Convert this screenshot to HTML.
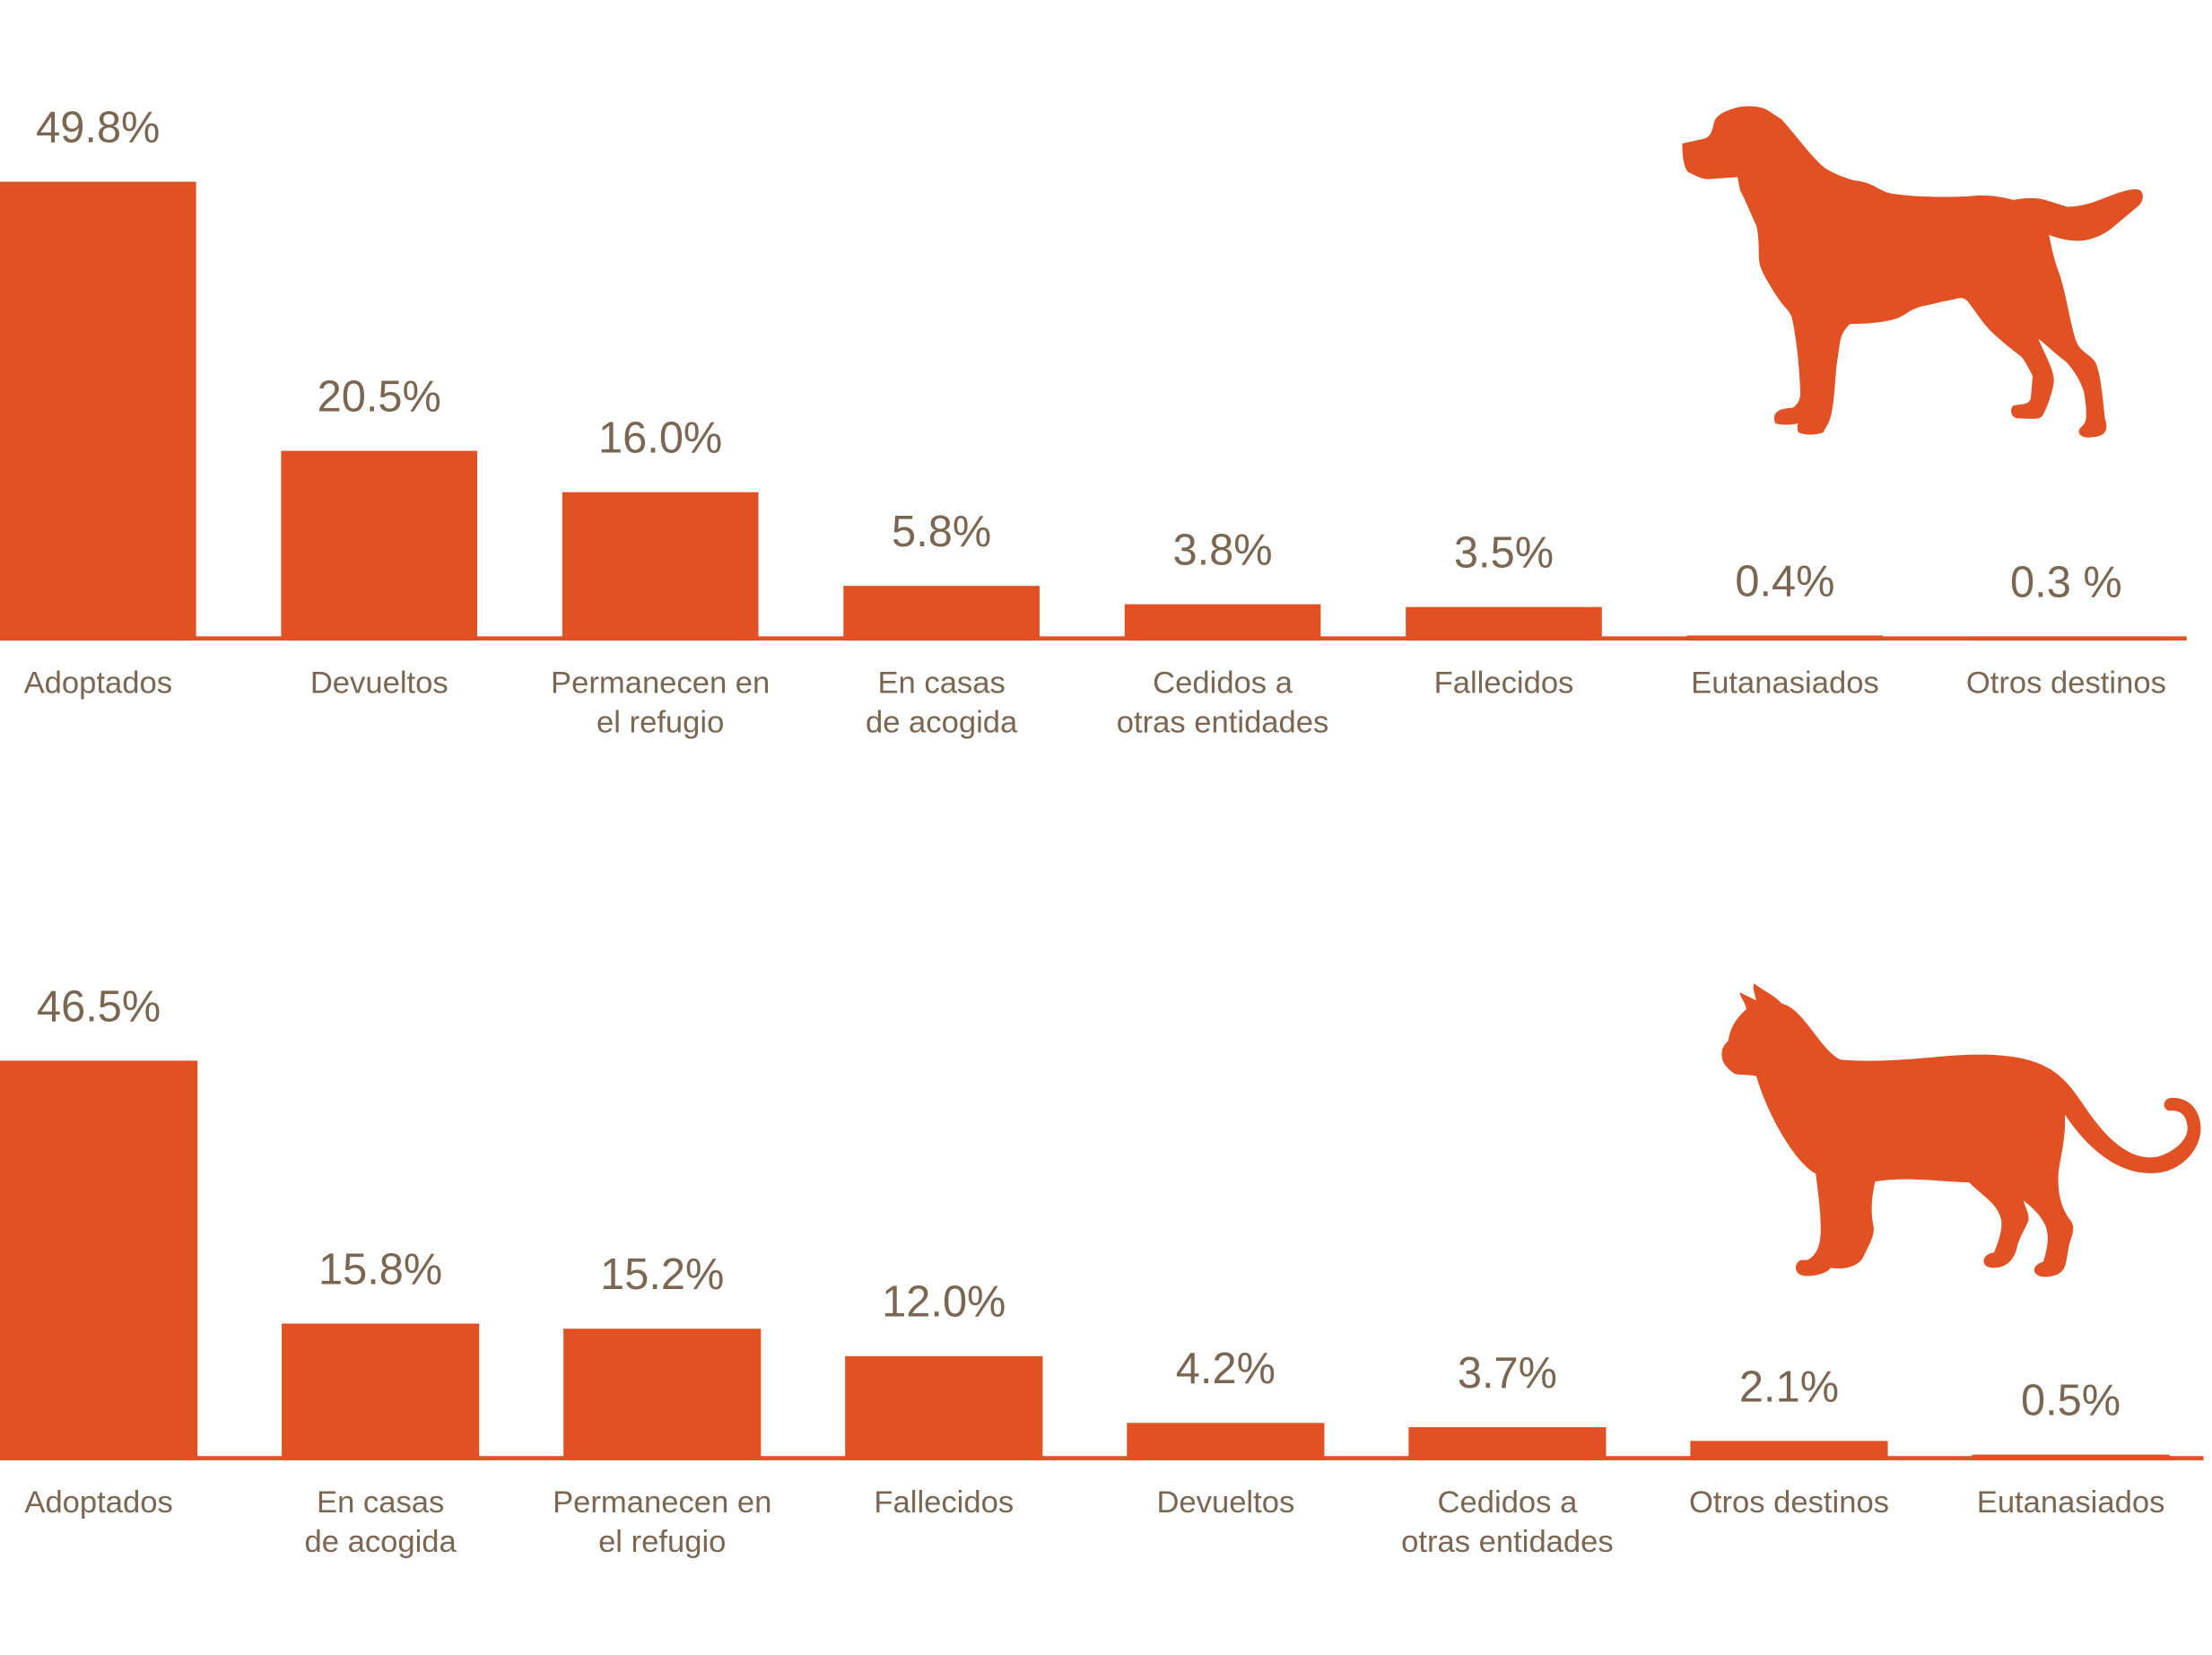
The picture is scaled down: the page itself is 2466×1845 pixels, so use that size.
<!DOCTYPE html>
<html><head><meta charset="utf-8"><style>
html,body{margin:0;padding:0;background:#fff;}
svg{display:block;}
text{font-family:"Liberation Sans",sans-serif;fill:#7b6651;}
</style></head><body>
<svg id="chart" width="2466" height="1845" viewBox="0 0 1568 1173" preserveAspectRatio="none">
<g id="dogChart"></g>
<g id="catChart"></g>
<path fill="#e25123" transform="translate(1143.9,50.8) scale(0.27,0.2104)" d="M180,242 L240,225 C258,215 258,195 265,165 C275,140 300,130 320,122 C350,112 390,115 410,135 L440,160 C470,200 520,290 555,325 C580,345 620,365 640,368 C680,375 690,395 720,408 C760,420 850,425 930,420 C980,412 1010,420 1050,432 C1080,425 1110,422 1140,435 L1190,455 C1230,455 1260,440 1290,425 C1320,410 1360,390 1380,398 C1395,410 1390,440 1375,455 L1305,530 C1280,555 1245,570 1220,570 C1190,570 1165,560 1143,550 C1150,600 1160,650 1170,680 C1190,760 1200,860 1215,910 C1225,945 1250,950 1265,980 C1280,1020 1285,1120 1290,1170 C1300,1210 1290,1230 1250,1232 C1225,1235 1215,1215 1225,1200 C1245,1180 1240,1160 1240,1130 L1235,1080 C1225,1040 1210,1010 1190,980 L1180,970 C1160,950 1135,920 1115,900 C1130,950 1160,1010 1155,1050 C1150,1090 1135,1140 1125,1160 C1118,1172 1100,1170 1060,1168 C1040,1165 1040,1130 1050,1125 C1070,1118 1090,1125 1095,1100 L1100,1025 C1090,1000 1080,975 1070,960 C1040,930 1000,890 980,860 C960,830 940,790 930,775 C920,760 910,760 890,768 C860,775 830,785 810,790 C780,800 770,815 750,828 C720,845 660,850 620,850 C600,875 595,895 592,930 L585,990 C580,1060 578,1140 565,1180 L550,1215 C530,1225 500,1225 485,1215 C480,1200 482,1190 485,1185 C470,1190 440,1192 425,1185 C415,1160 425,1140 450,1135 L470,1132 C485,1120 490,1100 490,1085 C488,1000 480,900 468,830 C460,800 450,800 430,760 C410,720 385,670 382,640 C380,600 382,560 375,520 C360,480 345,430 332,400 L325,355 L250,362 C225,362 210,345 195,338 C183,320 180,280 180,242 Z"/>
<path fill="#e25123" transform="translate(1201.8,685.2) scale(0.2338,0.2138)" d="M100,245 C105,200 125,170 155,140 C150,115 135,100 135,85 L185,112 C180,90 172,70 178,55 C200,75 240,95 262,122 C330,140 380,280 440,308 C520,315 600,312 720,300 C850,285 980,285 1060,330 C1150,380 1170,470 1250,560 C1300,615 1350,640 1400,630 C1450,615 1495,575 1492,530 C1488,490 1470,475 1440,477 C1415,477 1415,440 1440,435 C1500,430 1530,480 1532,530 C1535,600 1480,670 1410,682 C1300,700 1200,620 1120,490 C1125,580 1100,650 1100,700 C1100,770 1115,810 1140,845 C1155,875 1135,900 1130,940 C1122,990 1125,1025 1060,1028 C1020,1028 1015,990 1055,978 C1065,940 1075,900 1062,860 C1050,830 1030,805 995,775 C1000,800 1012,815 1010,840 C1000,870 985,890 975,930 C965,980 935,1000 900,998 C860,995 870,950 905,948 C920,910 935,860 925,830 C910,780 870,760 830,715 C740,712 640,695 545,712 C535,760 530,810 540,860 C545,890 525,925 510,960 C495,995 450,1005 410,998 C400,1015 370,1025 335,1025 C300,1025 295,985 320,972 L340,972 C370,955 380,920 380,870 C380,800 370,740 365,686 C300,650 215,480 185,363 C160,355 130,362 115,352 C95,335 82,320 80,295 C78,270 90,255 100,245 Z"/>
</svg>
<script>
const dogCategories = [["Adoptados"],["Devueltos"],["Permanecen en","el refugio"],["En casas","de acogida"],["Cedidos a","otras entidades"],["Fallecidos"],["Eutanasiados"],["Otros destinos"]];
const dogValues = [49.8, 20.5, 16.0, 5.8, 3.8, 3.5, 0.4, 0.3];
const dogLabels = ["49.8%","20.5%","16.0%","5.8%","3.8%","3.5%","0.4%","0.3 %"];
const catCategories = [["Adoptados"],["En casas","de acogida"],["Permanecen en","el refugio"],["Fallecidos"],["Devueltos"],["Cedidos a","otras entidades"],["Otros destinos"],["Eutanasiados"]];
const catValues = [46.5, 15.8, 15.2, 12.0, 4.2, 3.7, 2.1, 0.5];
const catLabels = ["46.5%","15.8%","15.2%","12.0%","4.2%","3.7%","2.1%","0.5%"];

const NS = "http://www.w3.org/2000/svg";
function drawChart(g, cats, vals, labels, cfg){
  const x = i => cfg.x0 + i*cfg.step;
  const y = v => cfg.base - v*cfg.pxPer;
  const line = document.createElementNS(NS,"rect");
  
  
  line.setAttribute("x",0); line.setAttribute("y",cfg.base-2);
  line.setAttribute("width",cfg.lineEnd); line.setAttribute("height",3);
  line.setAttribute("fill","#e25123");
  g.appendChild(line);
  vals.forEach((v,i)=>{
    const r = document.createElementNS(NS,"rect");
    
    
    r.setAttribute("x",x(i)); r.setAttribute("y",y(v));
    r.setAttribute("width",cfg.bw); r.setAttribute("height",cfg.base+1-y(v));
    r.setAttribute("fill","#e25123");
    g.appendChild(r);
    const cx = x(i)+cfg.bw/2;
    const t = document.createElementNS(NS,"text");
    
    
    t.setAttribute("x",cx); t.setAttribute("y",y(v)-28);
    t.setAttribute("text-anchor","middle"); t.setAttribute("font-size","31");
    t.textContent = labels[i];
    g.appendChild(t);
    cats[i].forEach((ln,k)=>{
      const c = document.createElementNS(NS,"text");
      
      
      c.setAttribute("x",cx); c.setAttribute("y",cfg.catY+k*28);
      c.setAttribute("text-anchor","middle"); c.setAttribute("font-size","22");
      c.textContent = ln;
      g.appendChild(c);
    });
  });
}
drawChart(document.getElementById("dogChart"), dogCategories, dogValues, dogLabels,
  {x0:0, step:199.3, bw:139, base:453, pxPer:6.51, catY:491, lineEnd:1550});
drawChart(document.getElementById("catChart"), catCategories, catValues, catLabels,
  {x0:0, step:199.7, bw:140, base:1034, pxPer:6.07, catY:1072, lineEnd:1562});
</script>
</body></html>
